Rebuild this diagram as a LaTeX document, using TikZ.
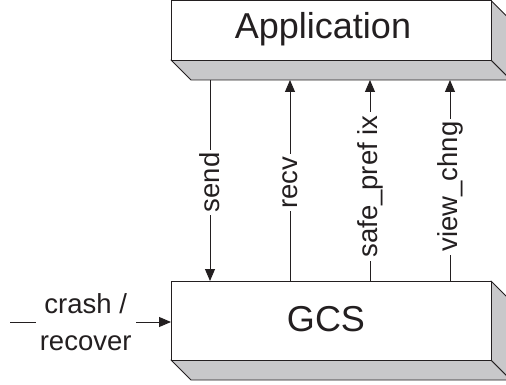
\documentclass[tikz,border=0pt]{standalone}
\usepackage{fontspec}
\setmainfont{Liberation Sans}
\usetikzlibrary{arrows.meta}
\definecolor{shade}{RGB}{200,200,202}
\definecolor{edge}{RGB}{35,31,32}
\tikzset{
  face/.style={draw=edge, line width=0.9pt, fill=white},
  side/.style={draw=edge, line width=0.9pt, fill=shade, line join=round},
  arr/.style={draw=edge, line width=0.9pt, -{Triangle[length=12pt,width=10pt]}},
  lbl/.style={fill=white, inner sep=3pt, font=\fontsize{27.5}{37}\selectfont, rotate=90, text=edge},
  boxtext/.style={font=\fontsize{36}{40}\selectfont, text=edge}
}
\begin{document}
\begin{tikzpicture}[x=1pt,y=-1pt]
\useasboundingbox (0,0) rectangle (506,385);
\begin{scope}
\clip (0,0) rectangle (506,385);
% Application box
\coordinate (a0) at (171,0.5);
\coordinate (a1) at (491,60);
\path[side] (171,60) -- (491,60) -- (511,80) -- (191,80) -- cycle;
\path[side] (491,0.5) -- (511,20.5) -- (511,80) -- (491,60) -- cycle;
\path[face] (a0) rectangle (a1);
\node[boxtext] (app) at (323,29) {Application};
% GCS box
\coordinate (g0) at (171,281);
\coordinate (g1) at (491,360);
\path[side] (171,360) -- (491,360) -- (511,380) -- (191,380) -- cycle;
\path[side] (491,281) -- (511,301) -- (511,380) -- (491,360) -- cycle;
\path[face] (g0) rectangle (g1);
\node[boxtext] (gcs) at (326,319) {GCS};
\end{scope}
% interface points
\coordinate (sendA) at (210,80);
\coordinate (sendG) at (210,281);
\coordinate (recvA) at (290,80);
\coordinate (recvG) at (290,281);
\coordinate (safeA) at (370,80);
\coordinate (safeG) at (370,281);
\coordinate (viewA) at (450,80);
\coordinate (viewG) at (450,281);
\draw[arr] (sendA) -- node[lbl, pos=0.51] (lsend) {send} (sendG);
\draw[arr] (recvG) -- node[lbl, pos=0.49] (lrecv) {recv} (recvA);
\draw[arr] (safeG) -- node[lbl, pos=0.47] (lsafe) {safe\_pref ix} (safeA);
\draw[arr] (viewG) -- node[lbl, pos=0.47] (lview) {view\_chng} (viewA);
% crash / recover
\coordinate (crashS) at (10,322);
\coordinate (crashE) at (171,322);
\draw[arr] (crashS) -- node[fill=white, inner sep=4pt, align=center, pos=0.47, font=\fontsize{27.5}{37}\selectfont, text=edge] (crash) {crash /\\recover} (crashE);
\end{tikzpicture}
\end{document}
